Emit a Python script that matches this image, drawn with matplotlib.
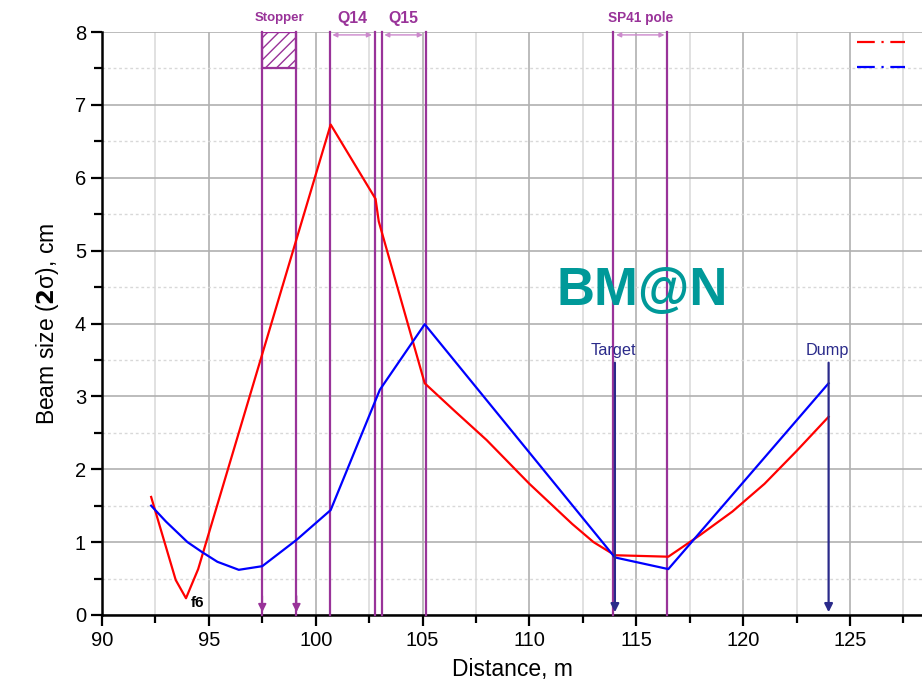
import numpy as np
import matplotlib
matplotlib.use("Agg")
import matplotlib.pyplot as plt
from matplotlib.lines import Line2D
from matplotlib.patches import Rectangle

plt.rcParams['font.family'] = ['Liberation Sans', 'DejaVu Sans']

# beam size along the line, cm
red_x = [92.3, 93.45, 93.93, 94.5, 100.7, 102.8, 102.95, 105.1, 106.5, 108.0, 110.0, 112.0, 113.0, 114.0,
         116.5, 118.0, 119.5, 121.0, 122.5, 124.0]
red_y = [1.62, 0.48, 0.23, 0.63, 6.73, 5.71, 5.40, 3.18, 2.80, 2.40, 1.80, 1.25, 1.00, 0.82,
         0.80, 1.10, 1.42, 1.80, 2.25, 2.72]
blue_x = [92.3, 93.0, 94.0, 94.7, 95.4, 96.4, 97.5, 99.1, 100.7, 103.0, 105.1, 114.0, 116.5, 124.0]
blue_y = [1.50, 1.28, 1.00, 0.86, 0.73, 0.62, 0.67, 1.03, 1.44, 3.09, 3.99, 0.79, 0.63, 3.18]

# elements along the beam line
stopper = (97.5, 99.1)
magnets = ["Q14", "Q15", "SP41 pole"]
magnet_start = [100.65, 103.08, 113.93]
magnet_end = [102.76, 105.14, 116.45]
marks = ["Target", "Dump"]
mark_x = [114.0, 124.0]

purple = '#993399'
navy = '#2a2a8a'

fig = plt.figure(figsize=(9.22, 6.88), dpi=100)
ax = fig.add_axes([102/922, 73/688, 820/922, 583/688])
ax.set_xlim(90, 128.37)
ax.set_ylim(0, 8)

ax.set_xticks(np.arange(90, 126, 5))
ax.set_xticks(np.arange(92.5, 128, 5), minor=True)
ax.set_yticks(np.arange(0, 9, 1))
ax.set_yticks(np.arange(0.5, 8, 1), minor=True)
ax.grid(which='major', color='#b0b0b0', lw=1.2)
ax.grid(which='minor', axis='x', color='#dcdcdc', lw=1.2)
ax.grid(which='minor', axis='y', color='#d8d8d8', lw=1, ls=(0, (2, 2)))
ax.set_axisbelow(True)
ax.tick_params(which='major', length=8, width=1.6, labelsize=14.5, direction='out')
ax.tick_params(which='minor', length=5.5, width=1.6, direction='out')
for s in ['top', 'right']:
    ax.spines[s].set_visible(False)
for s in ['left', 'bottom']:
    ax.spines[s].set_linewidth(1.8)

ax.set_xlabel('Distance, m', fontsize=16.5, labelpad=6)
ax.set_ylabel(r'Beam size ($\mathbf{2}$σ), cm', fontsize=16.5, labelpad=10)

# stopper
for x in stopper:
    ax.plot([x, x], [0, 8], color=purple, lw=1.6, clip_on=False, zorder=3)
    ax.annotate('', xy=(x, 0), xytext=(x, 0.3),
                arrowprops=dict(arrowstyle='-|>', color=purple, lw=1.2, mutation_scale=12), zorder=3)
ax.add_patch(Rectangle((stopper[0], 7.5), stopper[1] - stopper[0], 0.5, fill=False,
                       edgecolor=purple, hatch='///', lw=1.6, zorder=3))
ax.text(sum(stopper) / 2, 8.19, 'Stopper', color=purple, fontsize=9.5, fontweight='bold',
        ha='center', va='center')

# magnets
for name, a, b in zip(magnets, magnet_start, magnet_end):
    for x in (a, b):
        ax.plot([x, x], [0, 8], color=purple, lw=1.6, clip_on=False, zorder=3)
    ax.annotate('', xy=(a, 7.96), xytext=(b, 7.96),
                arrowprops=dict(arrowstyle='<|-|>', color='#cc88cc', lw=1, mutation_scale=7), zorder=3)
    fs = 9.8 if name == 'SP41 pole' else 11.4
    ax.text((a + b) / 2, 8.19, name, color=purple, fontsize=fs, fontweight='bold',
            ha='center', va='center')

# beam curves
ax.plot(red_x, red_y, color='#ff0000', lw=1.6, zorder=4)
ax.plot(blue_x, blue_y, color='#0000ff', lw=1.6, zorder=4)

# target and dump
for name, x in zip(marks, mark_x):
    ax.annotate('', xy=(x, 0), xytext=(x, 3.5),
                arrowprops=dict(arrowstyle='-|>', color=navy, lw=1.6, mutation_scale=12), zorder=5)
    ax.text(x - 0.05, 3.63, name, color=navy, fontsize=11.7, ha='center', va='center')

ax.text(94.45, 0.17, 'f6', fontsize=11, fontweight='bold', ha='center', va='center')
ax.text(115.3, 4.45, 'BM@N', color='#009999', fontsize=38, fontweight='bold',
        ha='center', va='center')

handles = [Line2D([], [], color='#ff0000', lw=1.6, ls=(0, (8, 3, 1, 3))),
           Line2D([], [], color='#0000ff', lw=1.6, ls=(0, (8, 3, 1, 3)))]
ax.legend(handles, [' ', ' '], loc='upper left', bbox_to_anchor=(0.9207, 0.994), frameon=False,
          handlelength=2.9, handletextpad=0, fontsize=12, labelspacing=0.62, borderpad=0,
          borderaxespad=0)

fig.savefig('out.png', dpi=100)
